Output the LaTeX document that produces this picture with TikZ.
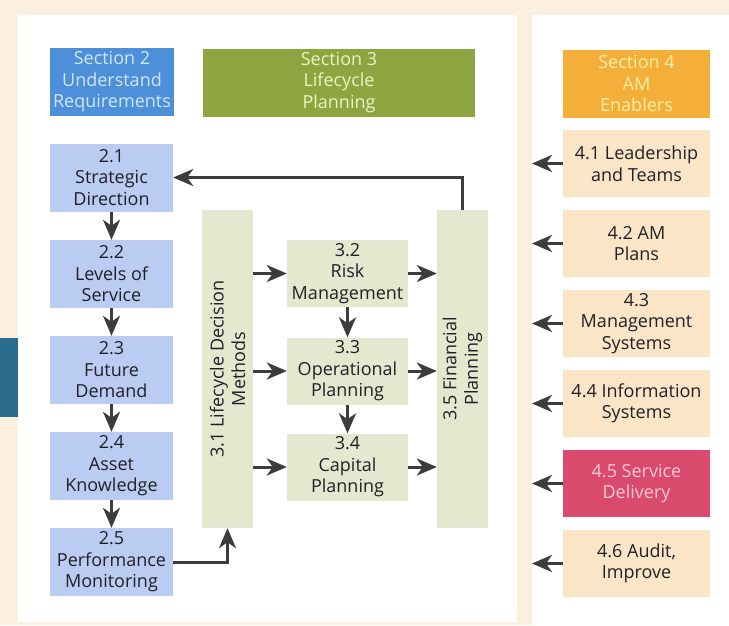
\documentclass[tikz,border=0pt]{standalone}
\usepackage{fontspec}
\setmainfont{Open Sans}
\usetikzlibrary{arrows.meta}

\definecolor{pagebg}{HTML}{FBEFE0}
\definecolor{tabblue}{HTML}{2B6C8C}
\definecolor{sectwo}{HTML}{4D8FD8}
\definecolor{sectwotext}{HTML}{CFE7FB}
\definecolor{secthree}{HTML}{8EA43F}
\definecolor{secthreetext}{HTML}{EDF2C6}
\definecolor{secfour}{HTML}{F4AF3B}
\definecolor{secfourtext}{HTML}{FCEEA6}
\definecolor{reqfill}{HTML}{BACCF2}
\definecolor{lcpfill}{HTML}{E5E8CE}
\definecolor{enafill}{HTML}{FAE6C6}
\definecolor{svcfill}{HTML}{D94A6C}
\definecolor{svctext}{HTML}{F8CAD6}
\definecolor{boxtext}{HTML}{202028}
\definecolor{arrowgray}{HTML}{3C3C3C}

\tikzset{
  box/.style={inner sep=0pt, align=center, text=boxtext,
    font=\fontsize{18}{21.5}\selectfont},
  head/.style={box, minimum height=68pt},
  reqbox/.style={box, fill=reqfill, minimum width=123pt, minimum height=68pt},
  lcpbox/.style={box, fill=lcpfill, minimum width=121pt, minimum height=67pt},
  tallbox/.style={box, fill=lcpfill, rotate=90, minimum width=318pt, minimum height=51pt},
  enabox/.style={box, fill=enafill, minimum width=147pt, minimum height=67pt},
  flow/.style={draw=arrowgray, line width=3pt,
    -{Stealth[length=20pt,width=17pt,inset=6pt]}}
}

\begin{document}
\begin{tikzpicture}[x=1pt,y=-1pt]
% paper and panels
\fill[pagebg] (0,0) rectangle (729,625);
\fill[white] (18,15) rectangle (517,622);
\fill[white] (532,15) rectangle (729,625);
\fill[tabblue] (0,338) rectangle (18,417);

% section headers
\node (sectwo) at (112,82) [head][fill=sectwo, text=sectwotext, minimum width=124pt]{Section 2\\Understand\\Requirements};
\node (secthree) at (339,82.5) [head][fill=secthree, text=secthreetext, minimum width=272pt]{Section 3\\Lifecycle\\Planning};
\node (secfour) at (636.5,83.5) [head][fill=secfour, text=secfourtext, minimum width=147pt]{Section 4\\AM\\Enablers};

% section 2
\node (strat) at (111.5,177.5) [reqbox]{2.1\\Strategic\\Direction};
\node (levels) at (111.5,274) [reqbox]{2.2\\Levels of\\Service};
\node (demand) at (111.5,370) [reqbox]{2.3\\Future\\Demand};
\node (know) at (111.5,466) [reqbox]{2.4\\Asset\\Knowledge};
\node (perf) at (111.5,562) [reqbox]{2.5\\Performance\\Monitoring};

% section 3
\node (methods) at (227.5,369) [tallbox]{3.1 Lifecycle Decision\\Methods};
\node (finance) at (462.5,369) [tallbox]{3.5 Financial\\Planning};
\node (risk) at (347.5,273.5) [lcpbox]{3.2\\Risk\\Management};
\node (ops) at (347.5,371) [lcpbox]{3.3\\Operational\\Planning};
\node (capital) at (347.5,467) [lcpbox]{3.4\\Capital\\Planning};

% section 4
\node (lead) at (636.5,163.5) [enabox]{4.1 Leadership\\and Teams};
\node (plans) at (636.5,243.5) [enabox]{4.2 AM\\Plans};
\node (mgmt) at (636.5,323.5) [enabox]{4.3\\Management\\Systems};
\node (info) at (636.5,403.5) [enabox]{4.4 Information\\Systems};
\node (service) at (636.5,483.5) [enabox][fill=svcfill, text=svctext]{4.5 Service\\Delivery};
\node (audit) at (636.5,563.5) [enabox]{4.6 Audit,\\Improve};
\coordinate (edge) at (532,0);

% arrows
\draw[flow] (strat) -- (levels);
\draw[flow] (levels) -- (demand);
\draw[flow] (demand) -- (know);
\draw[flow] (know) -- (perf);
\draw[flow] (perf.east) -| (methods.west);
\draw[flow] (finance.east) |- (strat.east);
\foreach \n in {risk,ops,capital}{
  \draw[flow] (methods.south |- \n.west) -- (\n.west);
  \draw[flow] (\n.east) -- (finance.north |- \n.east);
}
\draw[flow] (risk) -- (ops);
\draw[flow] (ops) -- (capital);
\foreach \n in {lead,plans,mgmt,info,service,audit}
  \draw[flow] (\n.west) -- (edge |- \n.west);
\end{tikzpicture}
\end{document}
